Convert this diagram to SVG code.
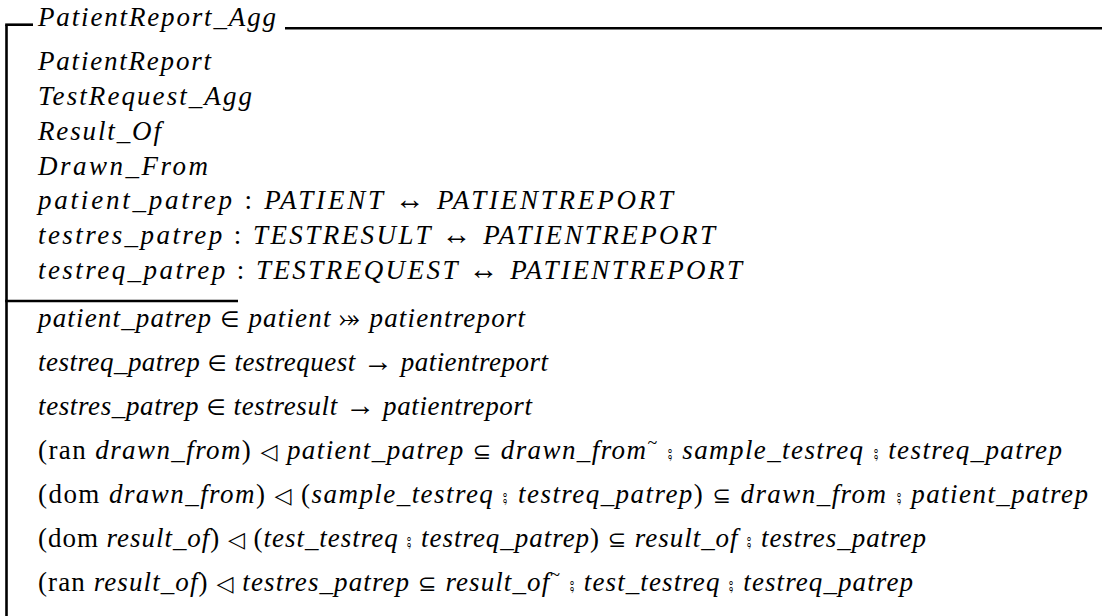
<svg xmlns="http://www.w3.org/2000/svg" width="1102" height="616" viewBox="0 0 1102 616">
  <style>
    .frame { stroke: #000; stroke-width: 2.6; fill: none; }
    .m { font-family: "Liberation Serif", "Times New Roman", serif; font-style: italic; font-size: 27px; fill: #000; }
    .r { font-style: normal; }
    .s { font-family: "DejaVu Sans", "Noto Sans", sans-serif; font-style: normal; font-size: 22px; }
    .a { font-family: "Liberation Serif", "DejaVu Serif", serif; font-style: normal; font-size: 30px; }
    .b { font-family: "DejaVu Sans", "Noto Sans", sans-serif; font-style: normal; font-size: 26px; }
    .c { font-family: "DejaVu Sans", "Noto Sans", sans-serif; font-style: normal; font-size: 30px; }
    .sup { font-family: "Liberation Serif", serif; font-style: normal; font-size: 18px; }
  </style>
  <rect width="1102" height="616" fill="#fff"/>

  <!-- schema frame -->
  <g id="frame">
    <line class="frame" x1="6.5" y1="24.7" x2="6.5" y2="616"/>
    <line class="frame" x1="5.2" y1="24.7" x2="33" y2="24.7"/>
    <line class="frame" x1="285" y1="28.3" x2="1102" y2="28.3"/>
    <line class="frame" x1="5.2" y1="301" x2="238" y2="301"/>
  </g>

  <!-- schema name -->
  <g id="title">
    <text class="m" x="38" y="26" textLength="238" lengthAdjust="spacing">PatientReport_Agg</text>
  </g>

  <!-- declaration part -->
  <g id="declarations">
    <text class="m" x="38" y="70" textLength="173" lengthAdjust="spacing">PatientReport</text>
    <text class="m" x="38" y="105" textLength="214" lengthAdjust="spacing">TestRequest_Agg</text>
    <text class="m" x="38" y="140" textLength="123" lengthAdjust="spacing">Result_Of</text>
    <text class="m" x="38" y="175" textLength="170" lengthAdjust="spacing">Drawn_From</text>
    <text class="m" x="38" y="209" textLength="635" lengthAdjust="spacing">patient_patrep <tspan class="r">:</tspan> PATIENT <tspan class="a">↔</tspan> PATIENTREPORT</text>
    <text class="m" x="38" y="244" textLength="677" lengthAdjust="spacing">testres_patrep <tspan class="r">:</tspan> TESTRESULT <tspan class="a">↔</tspan> PATIENTREPORT</text>
    <text class="m" x="38" y="279" textLength="704" lengthAdjust="spacing">testreq_patrep <tspan class="r">:</tspan> TESTREQUEST <tspan class="a">↔</tspan> PATIENTREPORT</text>
  </g>

  <!-- predicate part -->
  <g id="predicates">
    <text class="m" x="38" y="327" textLength="487" lengthAdjust="spacing">patient_patrep <tspan class="s">∈</tspan> patient <tspan class="b">⤖</tspan> patientreport</text>
    <text class="m" x="38" y="371" textLength="510" lengthAdjust="spacing">testreq_patrep <tspan class="s">∈</tspan> testrequest <tspan class="a">→</tspan> patientreport</text>
    <text class="m" x="38" y="415" textLength="494" lengthAdjust="spacing">testres_patrep <tspan class="s">∈</tspan> testresult <tspan class="a">→</tspan> patientreport</text>
    <text class="m" x="38" y="459" textLength="1024" lengthAdjust="spacing"><tspan class="r">(ran</tspan> drawn_from<tspan class="r">)</tspan> <tspan class="s">◁</tspan> patient_patrep <tspan class="s">⊆</tspan> drawn_from<tspan class="sup" dy="-10">~</tspan> <tspan class="c" dy="10">⨾</tspan> sample_testreq <tspan class="c">⨾</tspan> testreq_patrep</text>
    <text class="m" x="38" y="503" textLength="1050" lengthAdjust="spacing"><tspan class="r">(dom</tspan> drawn_from<tspan class="r">)</tspan> <tspan class="s">◁</tspan> <tspan class="r">(</tspan>sample_testreq <tspan class="c">⨾</tspan> testreq_patrep<tspan class="r">)</tspan> <tspan class="s">⊆</tspan> drawn_from <tspan class="c">⨾</tspan> patient_patrep</text>
    <text class="m" x="38" y="547" textLength="888" lengthAdjust="spacing"><tspan class="r">(dom</tspan> result_of<tspan class="r">)</tspan> <tspan class="s">◁</tspan> <tspan class="r">(</tspan>test_testreq <tspan class="c">⨾</tspan> testreq_patrep<tspan class="r">)</tspan> <tspan class="s">⊆</tspan> result_of <tspan class="c">⨾</tspan> testres_patrep</text>
    <text class="m" x="38" y="591" textLength="875" lengthAdjust="spacing"><tspan class="r">(ran</tspan> result_of<tspan class="r">)</tspan> <tspan class="s">◁</tspan> testres_patrep <tspan class="s">⊆</tspan> result_of<tspan class="sup" dy="-10">~</tspan> <tspan class="c" dy="10">⨾</tspan> test_testreq <tspan class="c">⨾</tspan> testreq_patrep</text>
  </g>
</svg>
